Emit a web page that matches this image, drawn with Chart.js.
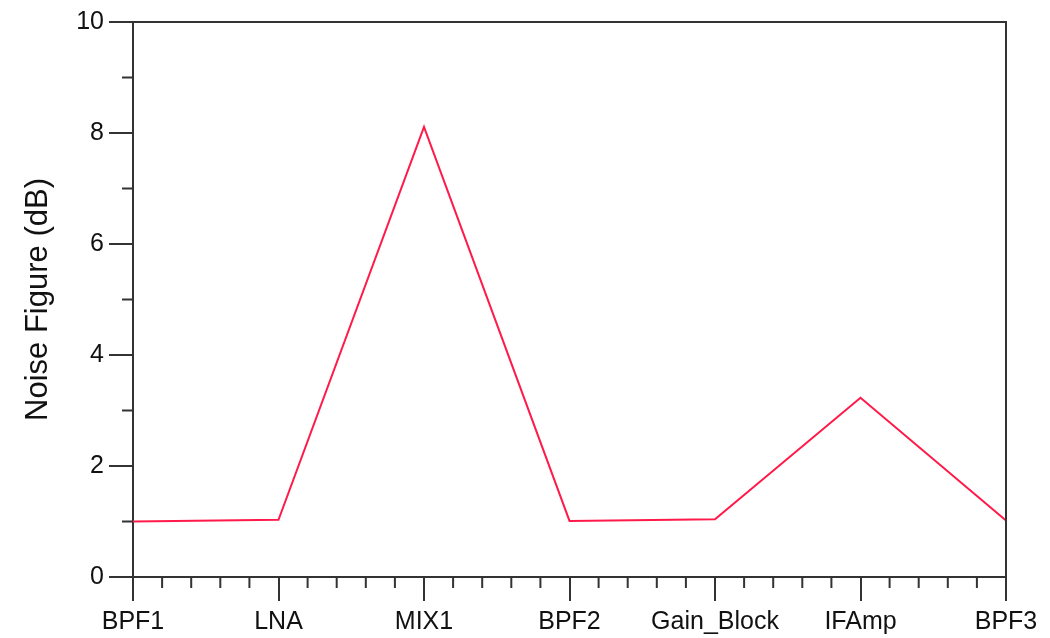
<!DOCTYPE html>
<html>
<head>
<meta charset="utf-8">
<script src="https://cdn.jsdelivr.net/npm/chart.js@4.4.0/dist/chart.umd.min.js"></script>
<style>
  html, body { margin: 0; padding: 0; background: #fff; }
  canvas { display: block; }
</style>
</head>
<body>
<canvas id="myChart" width="1050" height="638"></canvas>
<script>
// stages of the receiver chain
const categories = ['BPF1', 'LNA', 'MIX1', 'BPF2', 'Gain_Block', 'IFAmp', 'BPF3'];
// noise figure (dB)
const noiseFigure = [1.0, 1.03, 8.11, 1.01, 1.04, 3.23, 1.02];
const yTicks = [0, 2, 4, 6, 8, 10];
const yMinor = [1, 3, 5, 7, 9];

const axisColor = '#333333';
const lineColor = '#ff1a4a';

// minor ticks + the top/right frame
const extraTicks = {
    id: 'extraTicks',
    afterDraw(chart) {
        var ctx = chart.ctx;
        var a = chart.chartArea;
        var xs = chart.scales.x;
        var ys = chart.scales.y;
        ctx.save();
        ctx.strokeStyle = axisColor;
        ctx.lineWidth = 2;
        ctx.beginPath();
        ctx.moveTo(a.left, a.top);
        ctx.lineTo(a.right, a.top);
        ctx.lineTo(a.right, a.bottom);
        for (var i = 0; i < categories.length - 1; i++) {
            for (var k = 1; k < 5; k++) {
                var px = xs.getPixelForValue(i + k / 5);
                ctx.moveTo(px, a.bottom);
                ctx.lineTo(px, a.bottom + 11);
            }
        }
        for (let v of yMinor) {
            var py = ys.getPixelForValue(v);
            ctx.moveTo(a.left - 11, py);
            ctx.lineTo(a.left, py);
        }
        ctx.stroke();
        ctx.restore();
    }
};

var ctx = document.getElementById('myChart');
var myChart = new Chart(ctx, {
    type: 'line',
    data: {
        labels: categories,
        datasets: [{
            label: 'Noise Figure',
            data: noiseFigure,
            borderColor: lineColor,
            borderWidth: 2,
            pointRadius: 0,
            tension: 0,
            fill: false
        }]
    },
    options: {
        responsive: false,
        animation: false,
        layout: { padding: { top: 22, right: 44, bottom: -5, left: 20 } },
        plugins: {
            legend: { display: false },
            tooltip: { enabled: false }
        },
        scales: {
            x: {
                offset: false,
                grid: {
                    drawOnChartArea: false,
                    drawTicks: true,
                    tickLength: 24,
                    color: axisColor,
                    lineWidth: 2
                },
                border: { display: true, color: axisColor, width: 2 },
                ticks: {
                    color: '#111',
                    padding: 6,
                    maxRotation: 0,
                    autoSkip: false,
                    font: { family: 'Liberation Sans, Arial, sans-serif', size: 25 }
                }
            },
            y: {
                min: 0,
                max: 10,
                afterBuildTicks: function(scale) {
                    scale.ticks = yTicks.map(function(v) { return { value: v }; });
                },
                grid: {
                    drawOnChartArea: false,
                    drawTicks: true,
                    tickLength: 24,
                    color: axisColor,
                    lineWidth: 2
                },
                border: { display: true, color: axisColor, width: 2 },
                ticks: {
                    color: '#111',
                    padding: 5,
                    font: { family: 'Liberation Sans, Arial, sans-serif', size: 25 }
                },
                title: {
                    display: true,
                    text: 'Noise Figure (dB)',
                    color: '#111',
                    padding: { top: 0, bottom: 14 },
                    font: { family: 'Liberation Sans, Arial, sans-serif', size: 31 }
                }
            }
        }
    },
    plugins: [extraTicks]
});
</script>
</body>
</html>
